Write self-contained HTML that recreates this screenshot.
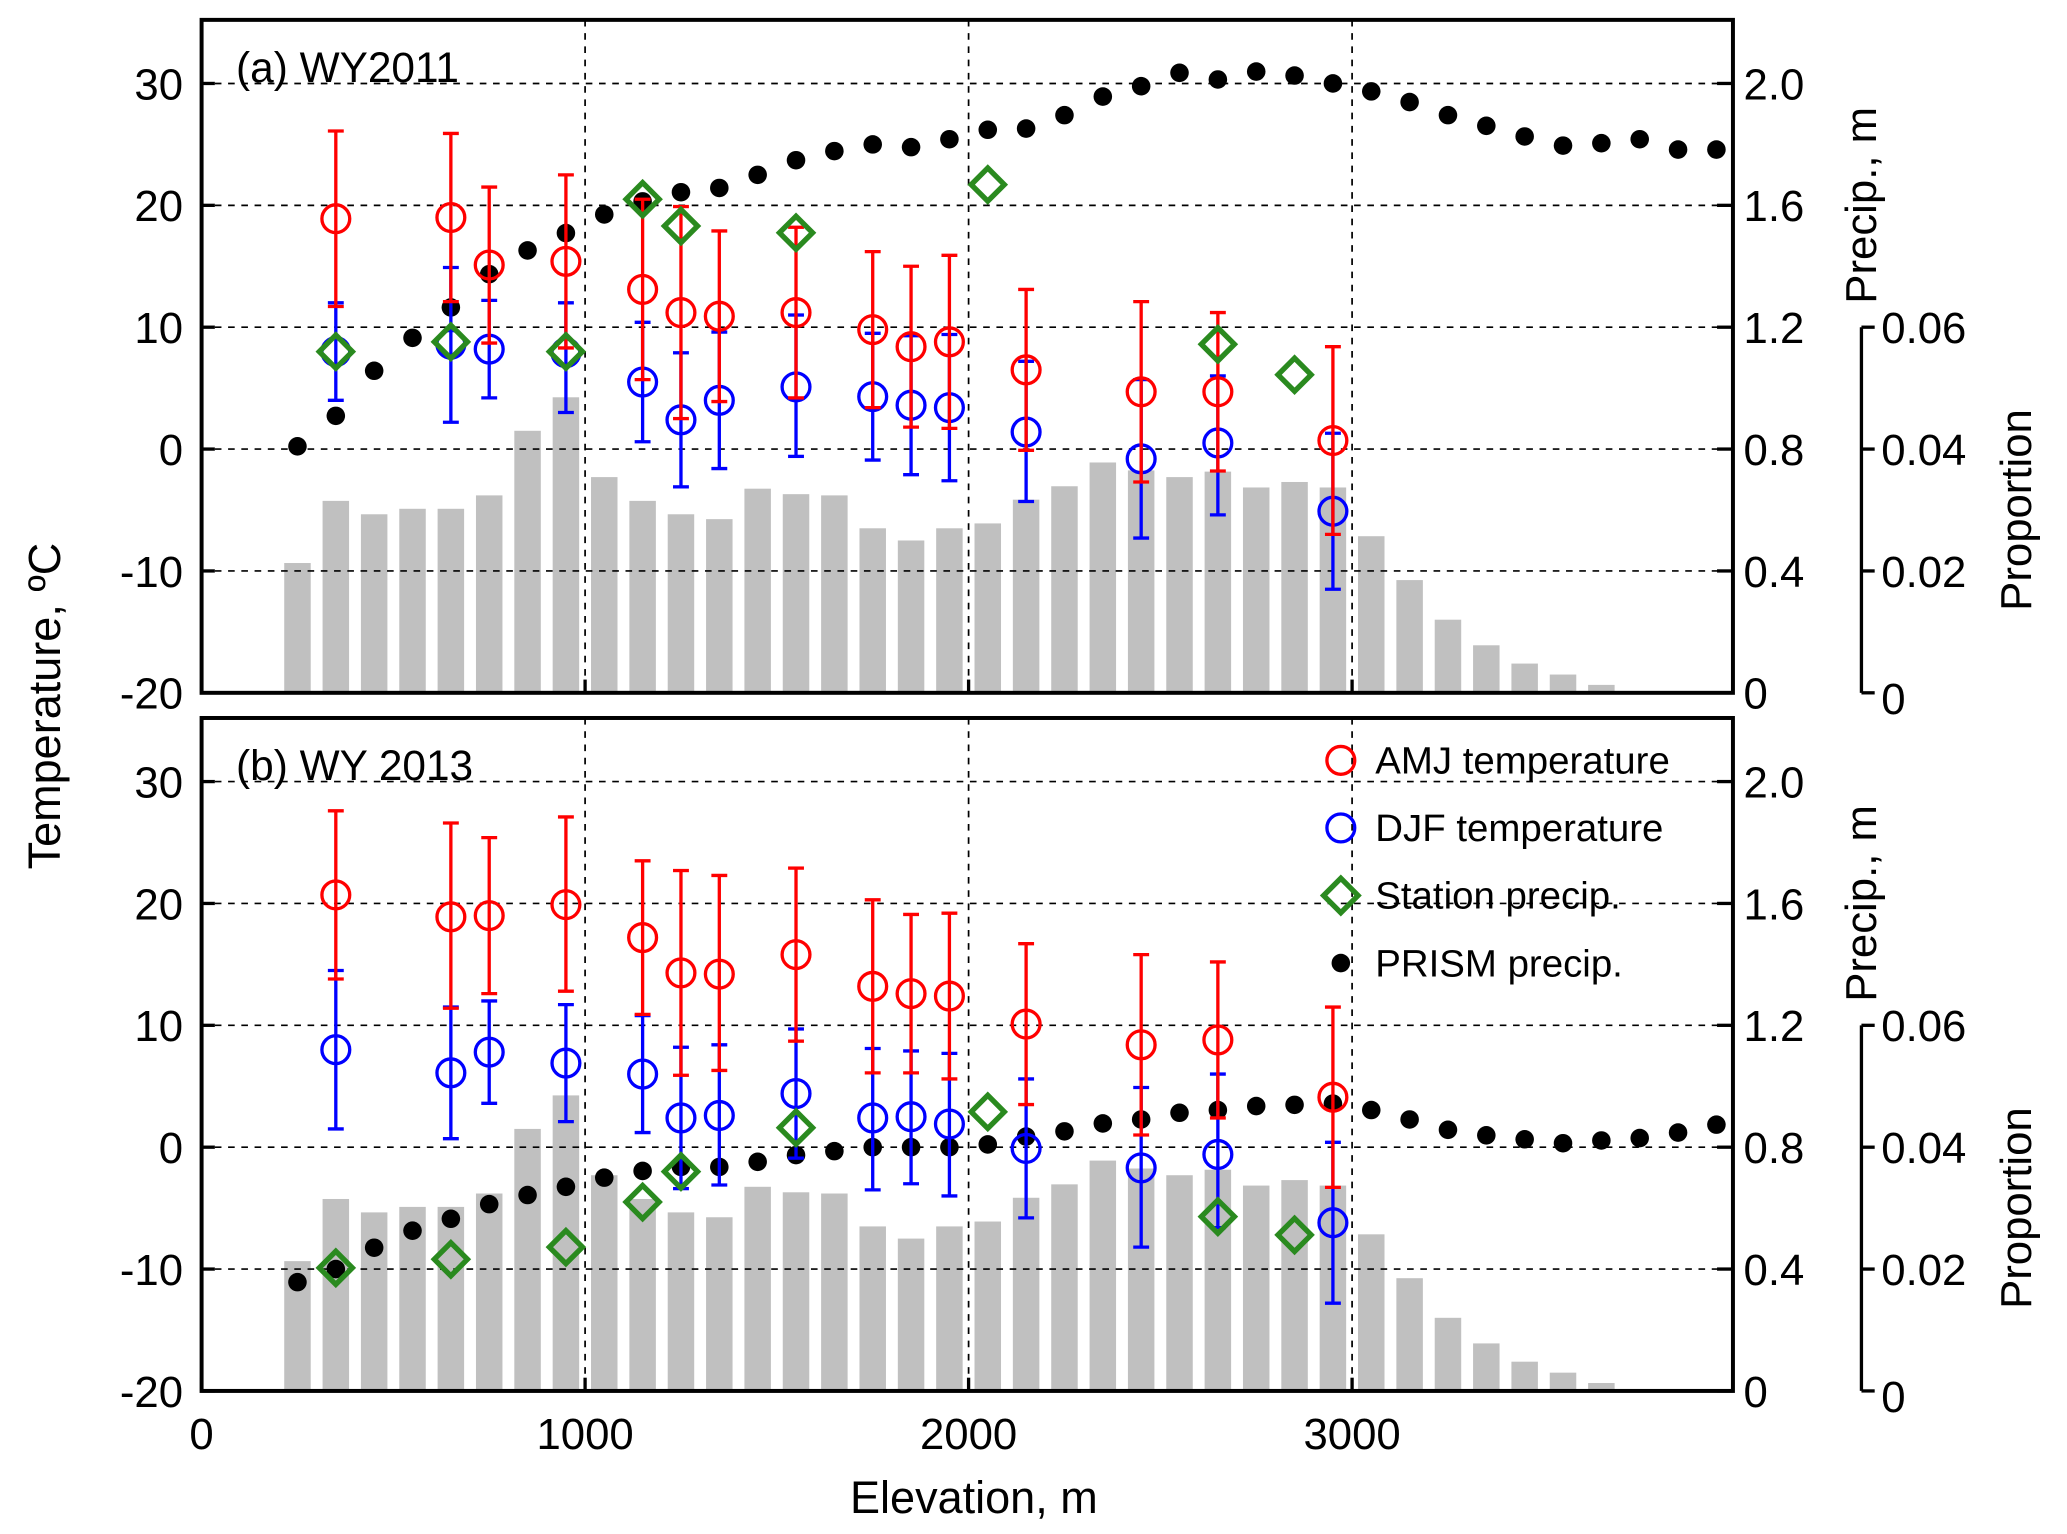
<!DOCTYPE html>
<html><head><meta charset="utf-8"><style>
html,body{margin:0;padding:0;background:#fff}
svg{display:block}
text{font-family:"Liberation Sans",Arial,sans-serif;fill:#000}
</style></head><body>
<svg id="chart" width="2067" height="1534" viewBox="0 0 1560 1158" xmlns="http://www.w3.org/2000/svg"></svg>
<script>
const binCenters=[250,350,450,550,650,750,850,950,1050,1150,1250,1350,1450,1550,1650,1750,1850,1950,2050,2150,2250,2350,2450,2550,2650,2750,2850,2950,3050,3150,3250,3350,3450,3550,3650];
const proportion=[0.0213,0.0315,0.0293,0.0302,0.0302,0.0324,0.043,0.0485,0.0354,0.0315,0.0293,0.0285,0.0335,0.0326,0.0324,0.027,0.025,0.027,0.0278,0.0317,0.0339,0.0378,0.0365,0.0354,0.0363,0.0337,0.0346,0.0337,0.0257,0.0185,0.012,0.0078,0.0048,0.003,0.0013];
const prismElev=[250,350,450,550,650,750,850,950,1050,1150,1250,1350,1450,1550,1650,1750,1850,1950,2050,2150,2250,2350,2450,2550,2650,2750,2850,2950,3050,3150,3250,3350,3450,3550,3650,3750,3850,3950];
const prismA=[0.809,0.909,1.057,1.165,1.265,1.374,1.452,1.509,1.57,1.613,1.643,1.657,1.7,1.748,1.778,1.8,1.791,1.817,1.848,1.852,1.896,1.957,1.991,2.035,2.013,2.039,2.026,2.0,1.974,1.939,1.896,1.861,1.826,1.796,1.804,1.817,1.783,1.783];
const prismB=[0.357,0.4,0.47,0.526,0.565,0.613,0.643,0.67,0.7,0.722,0.735,0.735,0.752,0.774,0.787,0.8,0.8,0.8,0.809,0.835,0.852,0.878,0.891,0.913,0.922,0.935,0.939,0.943,0.922,0.891,0.857,0.839,0.826,0.813,0.822,0.83,0.848,0.874];
const stnPElev=[350,650,950,1150,1250,1550,2050,2650,2850];
const stnPA=[1.12,1.152,1.12,1.62,1.532,1.51,1.668,1.144,1.044];
const stnPB=[0.404,0.432,0.472,0.62,0.72,0.864,0.916,0.572,0.512];
const stnElev=[350,650,750,950,1150,1250,1350,1550,1750,1850,1950,2150,2450,2650,2950];
const amjA=[18.9,19.0,15.1,15.4,13.1,11.2,10.9,11.2,9.8,8.4,8.8,6.5,4.7,4.7,0.7];
const amjAHi=[26.1,25.9,21.5,22.5,20.5,19.9,17.9,18.2,16.2,15.0,15.9,13.1,12.1,11.2,8.4];
const amjALo=[11.7,12.1,8.7,8.3,5.7,2.5,3.9,4.2,3.4,1.8,1.7,-0.1,-2.7,-1.8,-7.0];
const djfA=[8.0,8.6,8.2,7.9,5.5,2.4,4.0,5.1,4.3,3.6,3.4,1.4,-0.8,0.5,-5.1];
const djfAHi=[12.0,14.9,12.2,12.0,10.4,7.9,9.6,11.0,9.5,9.3,9.4,7.2,5.7,6.0,1.3];
const djfALo=[4.0,2.2,4.2,3.0,0.6,-3.1,-1.6,-0.6,-0.9,-2.1,-2.6,-4.3,-7.3,-5.4,-11.5];
const amjB=[20.7,18.9,19.0,19.9,17.2,14.3,14.2,15.8,13.2,12.6,12.4,10.1,8.4,8.8,4.1];
const amjBHi=[27.6,26.6,25.4,27.1,23.5,22.7,22.3,22.9,20.3,19.1,19.2,16.7,15.8,15.2,11.5];
const amjBLo=[13.8,11.4,12.6,12.8,10.9,5.9,6.3,8.7,6.1,6.1,5.6,3.5,1.0,2.4,-3.3];
const djfB=[8.0,6.1,7.8,6.9,6.0,2.4,2.6,4.4,2.4,2.5,1.9,-0.1,-1.7,-0.6,-6.2];
const djfBHi=[14.5,11.5,12.0,11.7,10.8,8.2,8.4,9.7,8.1,7.9,7.7,5.6,4.9,6.0,0.4];
const djfBLo=[1.5,0.7,3.6,2.1,1.2,-3.4,-3.1,-0.9,-3.5,-3.0,-4.0,-5.8,-8.2,-6.6,-12.8];
const xTicks=[0,1000,2000,3000];
const tTicks=[30,20,10,0,-10,-20];
const pTicks=[2.0,1.6,1.2,0.8,0.4,0];
const propTicks=[0.06,0.04,0.02,0];

const NS="http://www.w3.org/2000/svg";
const svg=document.getElementById('chart');
function mk(tag,attrs,parent,txt){const e=document.createElementNS(NS,tag);for(const k in attrs)e.setAttribute(k,attrs[k]);if(txt!==undefined)e.textContent=txt;(parent||svg).appendChild(e);return e;}
const X0=152,X1=1308;
const xs=v=>X0+v*0.2895;

function panel(off,label,prism,stnP,amj,amjHi,amjLo,djf,djfHi,djfLo,key){
  const g=mk('g',{});
  
  
  const top=15+off,bot=523+off;
  const ty=t=>bot-(t+20)*9.2;
  const py=p=>ty(p/0.04-20);
  const pr=q=>ty(q/0.002-20);
  binCenters.forEach((c,i)=>{
    const b=mk('rect',{x:xs(c)-10,y:pr(proportion[i]),width:20,height:bot-pr(proportion[i]),fill:'#c0c0c0'},g);
    
    
  });
  xTicks.slice(1).forEach(v=>mk('line',{x1:xs(v),x2:xs(v),y1:top,y2:bot,stroke:'#000','stroke-width':1.3,'stroke-dasharray':'5,5'},g));
  tTicks.slice(0,5).forEach(v=>mk('line',{x1:X0,x2:X1,y1:ty(v),y2:ty(v),stroke:'#000','stroke-width':1.3,'stroke-dasharray':'5,5'},g));
  mk('rect',{x:X0,y:top,width:X1-X0,height:bot-top,fill:'none',stroke:'#000','stroke-width':3},g);
  tTicks.forEach(v=>{mk('line',{x1:X0,x2:X0+10,y1:ty(v),y2:ty(v),stroke:'#000','stroke-width':2.5},g);
    const t=mk('text',{x:X0-14,y:ty(v)+12,'text-anchor':'end','font-size':33},g,String(v));
    });
  xTicks.forEach(v=>mk('line',{x1:xs(v),x2:xs(v),y1:bot,y2:bot-10,stroke:'#000','stroke-width':2.5},g));
  pTicks.forEach(v=>{mk('line',{x1:X1,x2:X1-12,y1:py(v),y2:py(v),stroke:'#000','stroke-width':2.5},g);
    const t=mk('text',{x:X1+8,y:py(v)+12,'font-size':33},g,v===0?'0':v.toFixed(1));
    });
  mk('line',{x1:1405,x2:1405,y1:pr(0.06),y2:bot,stroke:'#000','stroke-width':2.5},g);
  propTicks.forEach(v=>{mk('line',{x1:1405,x2:1415,y1:pr(v),y2:pr(v),stroke:'#000','stroke-width':2.5},g);
    const t=mk('text',{x:1420,y:pr(v)+(v===0?16:12),'font-size':33},g,v===0?'0':v.toFixed(2));
    });
  let t=mk('text',{x:0,y:0,'font-size':33,'text-anchor':'middle',transform:`translate(1416,${(py(2.0)+py(1.2))/2}) rotate(-90)`},g,'Precip., m');
  
  t=mk('text',{x:0,y:0,'font-size':33,'text-anchor':'middle',transform:`translate(1533,${(pr(0.06)+bot)/2}) rotate(-90)`},g,'Proportion');
  
  t=mk('text',{x:178,y:top+47,'font-size':32},g,label);
  
  prismElev.forEach((e,i)=>{const c=mk('circle',{cx:xs(e),cy:py(prism[i]),r:7,fill:'#000'},g);
    });
  function series(vals,hi,lo,col,nm){
    stnElev.forEach((e,i)=>{const x=xs(e);
      mk('line',{x1:x,x2:x,y1:ty(hi[i]),y2:ty(lo[i]),stroke:col,'stroke-width':2.5},g);
      mk('line',{x1:x-6,x2:x+6,y1:ty(hi[i]),y2:ty(hi[i]),stroke:col,'stroke-width':2.5},g);
      mk('line',{x1:x-6,x2:x+6,y1:ty(lo[i]),y2:ty(lo[i]),stroke:col,'stroke-width':2.5},g);
      const c=mk('circle',{cx:x,cy:ty(vals[i]),r:10.5,fill:'none',stroke:col,'stroke-width':2.5},g);
      });
  }
  series(djf,djfHi,djfLo,'#0000ff','djf-temperature-point');
  series(amj,amjHi,amjLo,'#ff0000','amj-temperature-point');
  stnPElev.forEach((e,i)=>{const x=xs(e),y=py(stnP[i]),s=12.5;
    const d=mk('polygon',{points:`${x},${y-s} ${x+s},${y} ${x},${y+s} ${x-s},${y}`,fill:'none',stroke:'#2a8a1f','stroke-width':4},g);
    });
}
panel(0,'(a) WY2011',prismA,stnPA,amjA,amjAHi,amjALo,djfA,djfAHi,djfALo,'a');
panel(527,'(b) WY 2013',prismB,stnPB,amjB,amjBHi,amjBLo,djfB,djfBHi,djfBLo,'b');
xTicks.forEach(v=>{const t=mk('text',{x:xs(v),y:1094,'text-anchor':'middle','font-size':33},svg,String(v));
  });
let tt=mk('text',{x:735,y:1142,'text-anchor':'middle','font-size':34},svg,'Elevation, m');

tt=mk('text',{x:0,y:0,'text-anchor':'middle','font-size':34,transform:'translate(45,533) rotate(-90)'},svg,'Temperature, ºC');

const lg=mk('g',{});


const items=[['AMJ temperature','c','#ff0000'],['DJF temperature','c','#0000ff'],['Station precip.','d','#2a8a1f'],['PRISM precip.','p','#000']];
items.forEach((it,i)=>{const y=574+i*51,x=1012;
  if(it[1]==='c')mk('circle',{cx:x,cy:y,r:10.5,fill:'none',stroke:it[2],'stroke-width':2.5},lg);
  else if(it[1]==='d')mk('polygon',{points:`${x},${y-13} ${x+13},${y} ${x},${y+13} ${x-13},${y}`,fill:'none',stroke:it[2],'stroke-width':4},lg);
  else mk('circle',{cx:x,cy:y,r:7,fill:'#000'},lg);
  const t=mk('text',{x:1038,y:y+10,'font-size':29},lg,it[0]);
  });
</script>
</body></html>
